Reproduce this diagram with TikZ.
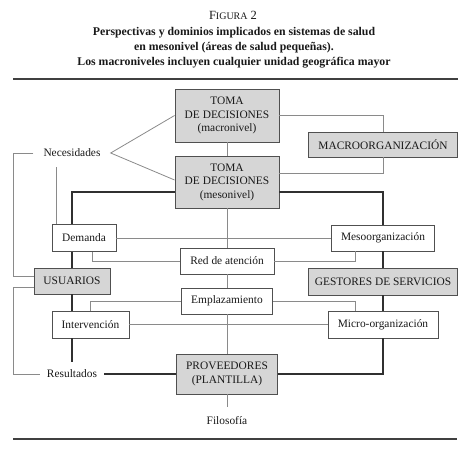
\documentclass[tikz,border=0pt]{standalone}
\usepackage{fontspec}
\setmainfont{Liberation Serif}

\definecolor{boxfill}{HTML}{D6D6D6}
\definecolor{boxline}{HTML}{505050}
\definecolor{thinl}{HTML}{8A8A8A}
\definecolor{thickl}{HTML}{303030}

\begin{document}
\begin{tikzpicture}[x=1pt, y=-1pt,
    every node/.style={font=\fontsize{11.4}{13.5}\selectfont, align=center, text=black!90},
    box/.style={draw=boxline, line width=0.9pt, inner sep=0pt},
    greybox/.style={box, fill=boxfill},
    whitebox/.style={box, fill=white},
    thinline/.style={draw=thinl, line width=0.8pt},
    thickline/.style={draw=thickl, line width=1.3pt},
    rule/.style={draw=black!75, line width=1.2pt}]
  \useasboundingbox (0,0) rectangle (476,454);

  % title
  \node[font=\fontsize{12.5}{14}\selectfont] (fig) at (233,15) {F{\fontsize{10}{11}\selectfont IGURA} 2};
  \node[font=\bfseries\fontsize{11.8}{15}\selectfont] (title) at (234,48) {Perspectivas y dominios implicados en sistemas de salud\\en mesonivel (áreas de salud pequeñas).\\Los macroniveles incluyen cualquier unidad geográfica mayor};
  \draw[rule] (13,79) -- (458,79);

  % central column
  \node[greybox, minimum width=104pt, minimum height=53pt] (macro) at (227,115.5) {TOMA\\DE DECISIONES\\(macronivel)};
  \node[greybox, minimum width=104pt, minimum height=52pt] (meso) at (227,182) {TOMA\\DE DECISIONES\\(mesonivel)};
  \node[whitebox, minimum width=94pt, minimum height=26pt] (red) at (227,261) {Red de atención};
  \node[whitebox, minimum width=91pt, minimum height=26pt] (empl) at (227,301) {Emplazamiento};
  \node[greybox, minimum width=101pt, minimum height=40pt] (prov) at (227,374) {PROVEEDORES\\(PLANTILLA)};
  \node[inner ysep=10pt] (filo) at (227,421) {Filosofía};

  % right column
  \node[greybox, minimum width=149pt, minimum height=25pt] (macroorg) at (383,144.5) {MACROORGANIZACIÓN};
  \node[whitebox, minimum width=103pt, minimum height=26pt] (mesoorg) at (383,238) {Mesoorganización};
  \node[greybox, minimum width=149pt, minimum height=27pt] (gestores) at (383,281.5) {GESTORES DE SERVICIOS};
  \node[whitebox, minimum width=110pt, minimum height=27pt] (micro) at (383,324.5) {Micro-organización};

  % left column
  \node[inner xsep=10pt, inner ysep=10pt] (nec) at (72,153) {Necesidades};
  \node[whitebox, minimum width=64pt, minimum height=27pt] (demanda) at (84,238) {Demanda};
  \node[greybox, minimum width=76pt, minimum height=26pt] (usuarios) at (72,281) {USUARIOS};
  \node[whitebox, minimum width=77pt, minimum height=27pt] (interv) at (90.5,324.5) {Intervención};
  \node[inner xsep=7pt, inner ysep=8pt] (res) at (72,374) {Resultados};

  \coordinate (lft) at (13,0);
  \coordinate (usr up) at ([yshift=5pt]usuarios.west);
  \coordinate (usr dn) at ([yshift=-6pt]usuarios.west);

  % thin connectors
  \draw[thinline] (macro) -- (meso);
  \draw[thinline] (meso) -- (red);
  \draw[thinline] (red) -- (empl);
  \draw[thinline] (empl) -- (prov);
  \draw[thinline] (prov) -- (filo);
  \draw[thinline] (macro.east) -| (macroorg.north);
  \draw[thinline] ([yshift=9pt]meso.east) -| (macroorg.south);
  \draw[thinline] (macro.west) -- (nec.east) -- ([yshift=2pt]meso.west);
  \draw[thinline] ([xshift=-16pt]nec.south) -- ([xshift=-16pt]nec.south |- demanda.north);
  \draw[thinline] (nec.west) -| (usr up -| lft) -- (usr up);
  \draw[thinline] (usr dn) -- (usr dn -| lft) |- (res.west);
  \draw[thinline] (demanda) -- (mesoorg);
  \draw[thinline] ([xshift=8pt]demanda.south) |- (red);
  \draw[thinline] (red) -| ([xshift=-28pt]mesoorg.south);
  \draw[thinline] (empl) -| (interv);
  \draw[thinline] (empl) -| ([xshift=-28pt]micro.north);
  \draw[thinline] (interv) -- (micro);

  % thick connectors
  \draw[thickline] ([yshift=-10pt]meso.west) -| (demanda.north -| usuarios);
  \draw[thickline] (demanda.south -| usuarios) -- (usuarios);
  \draw[thickline] (usuarios) -- (interv.north -| usuarios);
  \draw[thickline] (interv.south -| usuarios) -- (res.north);
  \draw[thickline] ([yshift=-10pt]meso.east) -| (mesoorg);
  \draw[thickline] (mesoorg) -- (gestores);
  \draw[thickline] (gestores) -- (micro);
  \draw[thickline] (res) -- (prov);
  \draw[thickline] (prov) -| (micro);

  \draw[rule] (13,439) -- (457,439);
\end{tikzpicture}
\end{document}
